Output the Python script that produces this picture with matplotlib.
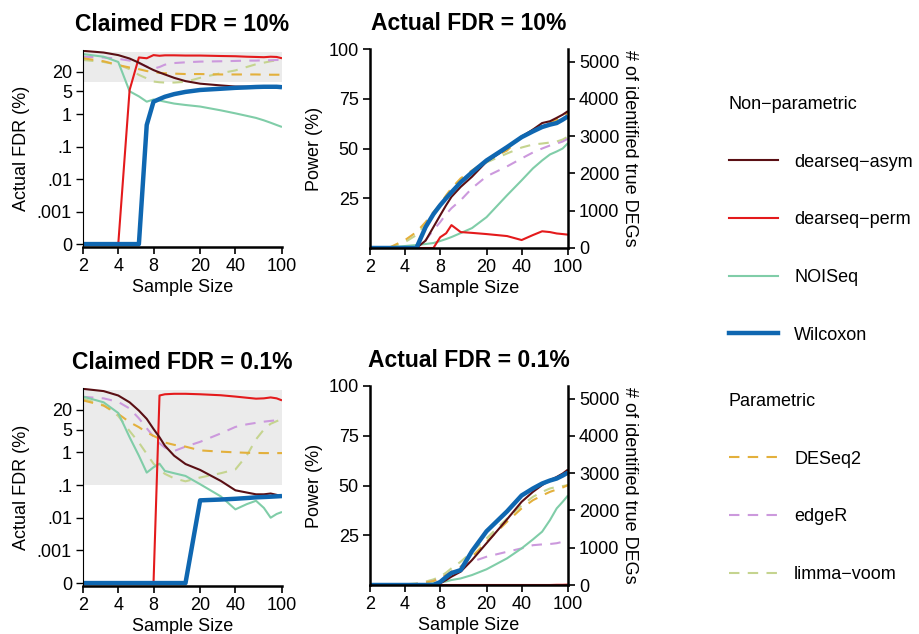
import numpy as np
import matplotlib
matplotlib.use('Agg')
import matplotlib.pyplot as plt
from matplotlib.lines import Line2D

plt.rcParams['font.family'] = ['Liberation Sans', 'DejaVu Sans']
plt.rcParams['font.size'] = 13

# sample sizes (x axis, log scale)
sample_size = [2, 3, 4, 5, 6, 7, 8, 9, 10, 12, 15, 20, 30, 40, 50, 60, 70, 80, 90, 100]
x_ticks = [2, 4, 8, 20, 40, 100]
fdr_ticks = [1e-4, 1e-3, 1e-2, 0.1, 1, 5, 20]
fdr_ticklabels = ['0', '.001', '.01', '.1', '1', '5', '20']
power_ticks = [25, 50, 75, 100]
deg_ticks = [0, 1000, 2000, 3000, 4000, 5000]
n_true_degs = 5340

# actual FDR (%) at claimed FDR = 10%
fdr10_asym = [88, 78, 65, 51, 38, 28.5, 22.5, 19, 16.5, 13, 10.3, 8.6, 7.6, 7.0, 6.9, 6.9, 6.9, 6.9, 6.9, 6.8]
fdr10_perm = [0, 0, 0, 5.5, 55, 52, 65, 62, 64, 64, 63, 63, 61, 60, 58, 57, 56, 58, 57, 52]
fdr10_noiseq = [70, 58, 40, 5, 3.5, 2.4, 2.8, 2.6, 2.4, 2.1, 1.9, 1.7, 1.3, 1.05, 0.88, 0.76, 0.64, 0.54, 0.46, 0.40]
fdr10_wilcox = [0, 0, 0, 0, 0, 0.46, 2.4, 2.9, 3.4, 4.1, 4.8, 5.5, 6.0, 6.4, 6.6, 6.8, 6.9, 6.9, 6.9, 6.7]
fdr10_deseq2 = [52, 42, 32, 27, 24, 21, 19.5, 18.5, 18, 17.5, 17, 17, 16.5, 16.5, 16.5, 16.5, 16.3, 16.2, 16.2, 16.2]
fdr10_edger = [58, 55, 50, 44, 36, 29, 25, 28, 33, 37, 39, 41, 42, 43, 44, 44, 45, 45, 46, 46]
fdr10_limma = [46, 40, 33, 24, 16, 12.5, 10, 9.5, 9.3, 9.3, 9.8, 13, 18, 22, 28, 34, 38, 42, 45, 48]

# power (%) at actual FDR = 10%
pow10_asym = [0, 0, 0, 0, 3.7, 10.5, 16.4, 21.5, 25.7, 30.7, 35.8, 43.4, 50.2, 56, 59.5, 62.8, 63.7, 65.4, 67, 68.8]
pow10_perm = [0, 0, 0, 0, 0, 0, 5.4, 7.4, 11.5, 8, 7.6, 7, 6, 4, 6.5, 8.4, 8, 7.3, 7, 6.7]
pow10_noiseq = [0, 0.3, 1, 1.5, 2, 2.5, 3.5, 4.5, 5.5, 7.5, 10, 15.5, 26.5, 34, 40, 44, 47, 48.5, 50, 52.7]
pow10_wilcox = [0, 0, 0, 0, 10.5, 17, 21.5, 25, 28, 33, 38, 44, 50.7, 55.7, 58.6, 60.8, 62, 62.8, 64.5, 66.2]
pow10_deseq2 = [0, 0.5, 4, 8, 13, 18, 22, 26.5, 30, 35, 39, 44, 49, 56, 59.5, 62, 63, 64.5, 66, 68]
pow10_edger = [0, 0, 0.5, 1, 4, 9, 13, 17, 20, 24, 30, 36, 41, 45, 48, 50, 51.5, 52.5, 53.5, 55]
pow10_limma = [0, 0.3, 3, 6.5, 12, 17, 21, 25, 28, 33, 38, 43, 47.5, 50.5, 52, 52.5, 53, 53.5, 54.5, 56]

# actual FDR (%) at claimed FDR = 0.1%
fdr01_asym = [88, 75, 55, 34, 19, 10.6, 5.2, 2.9, 1.6, 0.79, 0.44, 0.29, 0.134, 0.069, 0.059, 0.052, 0.052, 0.055, 0.05, 0.044]
fdr01_perm = [0, 0, 0, 0, 0, 0, 0, 55, 60, 62, 62, 60, 56, 51, 47, 44, 45, 48, 45, 39]
fdr01_noiseq = [51, 34, 16, 2.9, 0.79, 0.24, 0.35, 0.45, 0.27, 0.23, 0.19, 0.106, 0.045, 0.018, 0.026, 0.033, 0.02, 0.01, 0.013, 0.015]
fdr01_wilcox = [0, 0, 0, 0, 0, 0, 0, 0, 0, 0, 0, 0.034, 0.036, 0.038, 0.04, 0.042, 0.043, 0.044, 0.045, 0.046]
fdr01_deseq2 = [39, 27, 15, 8.4, 5.9, 4.1, 3.2, 2.6, 2.0, 1.7, 1.5, 1.15, 1.05, 1.0, 0.97, 0.96, 0.95, 0.95, 0.95, 0.95]
fdr01_edger = [50, 45, 35, 22, 11, 5.5, 3, 1.9, 1.4, 1.1, 1.5, 2.1, 3.8, 6.0, 7.2, 8, 8.7, 9.2, 9.6, 10]
fdr01_limma = [44, 28, 13, 4.5, 2, 0.9, 0.45, 0.3, 0.22, 0.16, 0.13, 0.17, 0.23, 0.3, 0.8, 2.5, 5, 7.5, 9, 10.5]

# power (%) at actual FDR = 0.1%
pow01_asym = [0, 0, 0, 0, 0, 0, 0.8, 2.5, 4.2, 6.7, 12.5, 21, 33, 41.8, 46.8, 50.2, 52.7, 54.3, 56, 58]
pow01_perm = [0, 0, 0, 0, 0, 0, 0, 0, 0, 0, 0, 0, 0, 0, 0, 0, 0, 0.1, 0.1, 0.2]
pow01_noiseq = [0, 0, 0, 0.2, 0.5, 0.8, 1.3, 1.8, 2.5, 3.3, 5, 7.9, 13.4, 18.4, 22.9, 26.8, 32.6, 38.5, 41.8, 45]
pow01_wilcox = [0, 0, 0, 0, 0, 0, 1.5, 4, 6, 7.5, 17, 27, 37, 45, 48.5, 51, 52.5, 53.5, 55, 56.5]
pow01_deseq2 = [0, 0, 0.2, 0.5, 1.2, 2, 3.3, 5, 6.7, 9.2, 14.2, 21.7, 31.8, 38.5, 42.6, 45, 46.8, 48, 49, 50.2]
pow01_edger = [0, 0, 0.2, 0.5, 1.2, 2, 3.3, 5, 6.7, 9.2, 11.7, 14.2, 16.7, 18.4, 20, 20.4, 20.6, 21, 21.7, 23.4]
pow01_limma = [0, 0, 0.3, 0.8, 1.7, 2.8, 4.2, 6.2, 8.4, 11.7, 16.7, 23.4, 33.4, 40, 44.3, 46.8, 48.5, 49.3, 49.7, 50.2]

methods = ['dearseq\u2212asym', 'dearseq\u2212perm', 'NOISeq', 'Wilcoxon', 'DESeq2', 'edgeR', 'limma\u2212voom']
colors = ['#5a0f14', '#e41a1c', '#80cda8', '#0f67b1', '#e3b03c', '#cc99dd', '#c5d48f']
widths = [1.5, 1.5, 1.5, 3.2, 1.5, 1.5, 1.5]
styles = ['-', '-', '-', '-', (0, (5, 4)), (0, (5, 4)), (0, (5, 4))]
draw_order = [6, 5, 4, 2, 1, 0, 3]

fdr10 = [fdr10_asym, fdr10_perm, fdr10_noiseq, fdr10_wilcox, fdr10_deseq2, fdr10_edger, fdr10_limma]
pow10 = [pow10_asym, pow10_perm, pow10_noiseq, pow10_wilcox, pow10_deseq2, pow10_edger, pow10_limma]
fdr01 = [fdr01_asym, fdr01_perm, fdr01_noiseq, fdr01_wilcox, fdr01_deseq2, fdr01_edger, fdr01_limma]
pow01 = [pow01_asym, pow01_perm, pow01_noiseq, pow01_wilcox, pow01_deseq2, pow01_edger, pow01_limma]

W, H = 919, 634
fig = plt.figure(figsize=(W / 100, H / 100), dpi=100)


def px_axes(x0, y0, x1, y1):
    return fig.add_axes([x0 / W, 1 - y1 / H, (x1 - x0) / W, (y1 - y0) / H])


def style_x(ax):
    ax.set_xscale('log')
    ax.set_xlim(2, 100)
    ax.set_xticks(x_ticks)
    ax.set_xticklabels([str(t) for t in x_ticks])
    ax.set_xlabel('Sample Size', labelpad=3)
    ax.tick_params(axis='x', length=5, width=1.2, pad=3, labelsize=13)
    ax.spines['bottom'].set_linewidth(1.8)
    ax.spines['top'].set_visible(False)


def fdr_panel(ax, series, claimed, title):
    ax.axhspan(claimed, 10 ** 1.92, color='#ebebeb', lw=0, zorder=0)
    for i in draw_order:
        ax.plot(sample_size, np.maximum(series[i], 1e-4), color=colors[i],
                lw=widths[i], ls=styles[i], solid_capstyle='butt')
    style_x(ax)
    ax.set_yscale('log')
    ax.set_ylim(10 ** -4.09, 10 ** 1.97)
    ax.set_yticks(fdr_ticks)
    ax.set_yticklabels(fdr_ticklabels)
    ax.minorticks_off()
    ax.tick_params(axis='y', length=5, width=1.0, pad=3, labelsize=13)
    ax.spines['right'].set_visible(False)
    ax.spines['left'].set_linewidth(0.8)
    ax.set_ylabel('Actual FDR (%)', labelpad=5)
    ax.set_title(title, fontsize=16.5, fontweight='bold', pad=14)


def power_panel(ax, series, title):
    for i in draw_order:
        ax.plot(sample_size, series[i], color=colors[i],
                lw=widths[i], ls=styles[i], solid_capstyle='butt')
    style_x(ax)
    ax.minorticks_off()
    ax.set_ylim(0, 100)
    ax.set_yticks(power_ticks)
    ax.tick_params(axis='y', length=5, width=1.2, pad=3, labelsize=13)
    ax.spines['left'].set_linewidth(1.8)
    ax.spines['right'].set_visible(False)
    ax.set_ylabel('Power (%)', labelpad=4)
    ax.set_title(title, fontsize=16.5, fontweight='bold', pad=14)
    ax2 = ax.twinx()
    ax2.set_ylim(0, n_true_degs)
    ax2.set_yticks(deg_ticks)
    ax2.tick_params(axis='y', length=5, width=1.2, pad=3, labelsize=13)
    for s in ['top', 'left', 'bottom']:
        ax2.spines[s].set_visible(False)
    ax2.spines['right'].set_linewidth(1.8)
    ax2.set_ylabel('# of identified true DEGs', rotation=270, va='bottom', labelpad=1)


ax_tl = px_axes(83, 50, 282, 247)
fdr_panel(ax_tl, fdr10, 10, 'Claimed FDR = 10%')
ax_tr = px_axes(370, 49, 568, 248)
power_panel(ax_tr, pow10, 'Actual FDR = 10%')
ax_bl = px_axes(83, 388, 282, 586)
fdr_panel(ax_bl, fdr01, 0.1, 'Claimed FDR = 0.1%')
ax_br = px_axes(370, 386, 568, 585)
power_panel(ax_br, pow01, 'Actual FDR = 0.1%')

# legends
handles = [Line2D([], [], color=colors[i], lw=widths[i], ls=styles[i]) for i in range(7)]
leg_kw = dict(loc='upper left', frameon=False, fontsize=13, title_fontsize=13,
              alignment='left', labelspacing=2.25, handlelength=2.7,
              handletextpad=0.9, borderpad=0, borderaxespad=0)
leg1 = fig.legend(handles[:4], methods[:4], title='Non\u2212parametric',
                  bbox_to_anchor=(729 / W, 1 - 96 / H), **leg_kw)
leg2 = fig.legend(handles[4:], methods[4:], title='Parametric',
                  bbox_to_anchor=(729 / W, 1 - 393 / H), **leg_kw)

fig.savefig('out.png', dpi=100)
